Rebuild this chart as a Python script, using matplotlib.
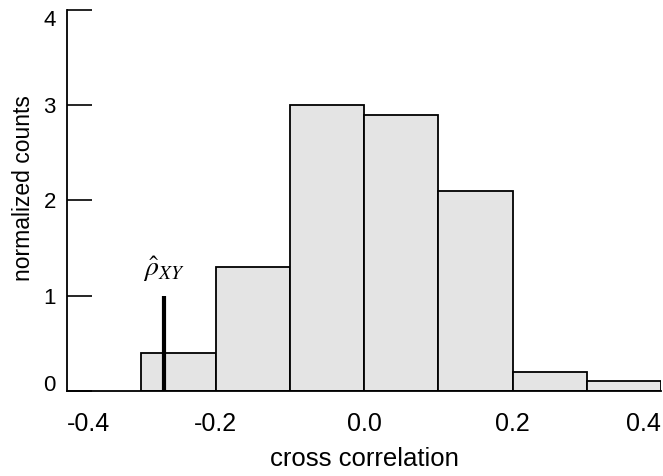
import matplotlib
matplotlib.use("Agg")
import matplotlib.pyplot as plt
import numpy as np

bin_edges = [-0.3, -0.2, -0.1, 0.0, 0.1, 0.2, 0.3, 0.4]
counts = [0.4, 1.3, 3.0, 2.9, 2.1, 0.2, 0.1]
rho_xy = -0.27
rho_height = 1.0
x_ticks = [-0.4, -0.2, 0.0, 0.2, 0.4]
x_ticklabels = ["-0.4", "-0.2", "0.0", "0.2", "0.4"]
y_ticks = [0, 1, 2, 3, 4]
y_ticklabels = ["0", "1", "2", "3", "4"]

plt.rcParams['font.family'] = ['Liberation Sans', 'DejaVu Sans']

fig = plt.figure(figsize=(6.63, 4.76), dpi=100)
ax = fig.add_axes([67/663, 85/476, 594/663, 381/476])

edges = np.array(bin_edges)
ax.bar(edges[:-1], counts, width=np.diff(edges), align='edge',
       color='#e4e4e4', edgecolor='black', linewidth=1.3, zorder=2)

ax.vlines(rho_xy, 0, rho_height, color='black', linewidth=3, zorder=3)
ax.text(rho_xy, rho_height + 0.12, r'$\hat{\rho}_{XY}$', ha='center', va='bottom',
        fontsize=20, math_fontfamily='stix')

ax.set_xlim(-0.4, 0.4)
ax.set_ylim(0, 4)
ax.set_xticks(x_ticks)
ax.set_xticklabels(x_ticklabels)
ax.set_yticks(y_ticks)
ax.set_yticklabels(y_ticklabels)
ax.tick_params(axis='x', length=0, pad=15, labelsize=18)
ax.tick_params(axis='y', direction='in', length=18, width=1.2, pad=8, labelsize=16)

xl = ax.get_xticklabels()
xl[0].set_ha('left')
xl[-1].set_ha('right')
yl = ax.get_yticklabels()
yl[0].set_va('baseline')
yl[-1].set_va('top')

for s in ['top', 'right']:
    ax.spines[s].set_visible(False)
for s in ['left', 'bottom']:
    ax.spines[s].set_linewidth(1.3)

ax.set_xlabel('cross correlation', fontsize=18.5, labelpad=8)
ax.set_ylabel('normalized counts', fontsize=16.5)
ax.yaxis.set_label_coords(-0.054, 0.533)

fig.savefig('out.png', dpi=100)
